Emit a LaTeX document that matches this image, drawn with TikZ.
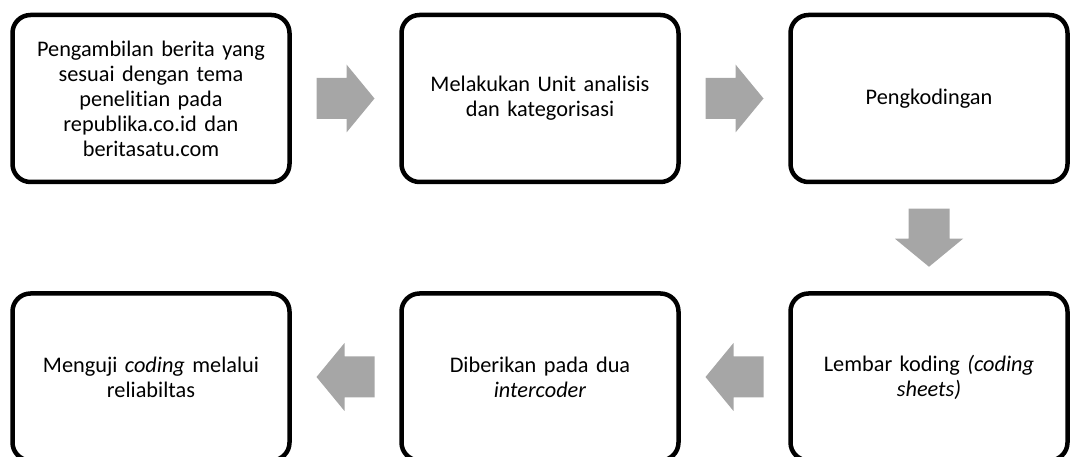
\documentclass[tikz,border=0pt]{standalone}
\usepackage{fontspec}
\setmainfont{Carlito}[Ligatures=NoCommon]
\usetikzlibrary{calc}
\definecolor{arrowgray}{RGB}{166,166,166}

\begin{document}
\begin{tikzpicture}[
  x=1pt, y=1pt,
  stepbox/.style={draw=black, line width=4.5pt, rounded corners=18pt, fill=white,
    minimum width=277pt, minimum height=167pt, text width=266pt, align=center,
    font=\fontsize{22.3}{25}\selectfont},
  blockarrow/.pic={\fill[arrowgray] (-29,-20.5) -- (1,-20.5) -- (1,-34) -- (29,0)
    -- (1,34) -- (1,20.5) -- (-29,20.5) -- cycle;}
]
  % Fix the canvas and cut the lower boxes at the page edge
  \useasboundingbox (0,0) rectangle (1071,457);
  \clip (0,0) rectangle (1071,457);

  % Top row of steps
  \node[stepbox] (ambil) at (151,358.5) {Pengambilan berita yang\\ sesuai dengan tema\\ penelitian pada\\ republika.co.id dan\\ beritasatu.com};
  \node[stepbox] (unit) at (540,358.5) {Melakukan Unit analisis\\ dan kategorisasi};
  \node[stepbox] (kode) at (929,358.5) {Pengkodingan};

  % Bottom row of steps
  \node[stepbox] (lembar) at (929,80) {Lembar koding \textit{(coding}\\ \textit{sheets)}};
  \node[stepbox] (coder) at (540,80) {Diberikan pada dua\\ \textit{intercoder}};
  \node[stepbox] (uji) at (151,80) {Menguji \textit{coding} melalui\\ reliabiltas};

  % Block arrows between the steps
  \path ($(ambil.east)!0.5!(unit.west)$) pic {blockarrow};
  \path ($(unit.east)!0.5!(kode.west)$) pic {blockarrow};
  \path ($(kode.south)!0.5!(lembar.north)$) pic[rotate=-90] {blockarrow};
  \path ($(lembar.west)!0.5!(coder.east)$) pic[rotate=180] {blockarrow};
  \path ($(coder.west)!0.5!(uji.east)$) pic[rotate=180] {blockarrow};

\end{tikzpicture}
\end{document}
